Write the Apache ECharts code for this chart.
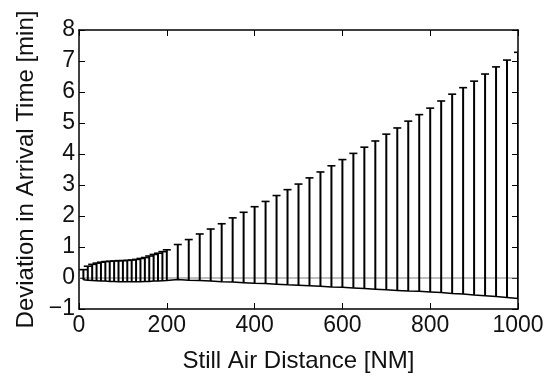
<!DOCTYPE html>
<html>
<head>
<meta charset="utf-8">
<script src="https://cdn.jsdelivr.net/npm/echarts@6/dist/echarts.min.js"></script>
<style>html,body{margin:0;padding:0;background:#fff;}#c{width:550px;height:381px;}</style>
</head>
<body>
<div id="c"></div>
<script>
// Still air distance [NM]
const distances = [10,20,30,40,50,60,70,80,90,100,110,120,130,140,150,160,170,180,190,200,
  225,250,275,300,325,350,375,400,425,450,475,500,525,550,575,600,625,650,675,700,725,750,775,800,825,850,875,900,925,950,975,1000];
// Upper end of deviation [min]
const upperDev = [0.27,0.38,0.44,0.48,0.51,0.53,0.54,0.55,0.56,0.56,0.57,0.58,0.60,0.63,0.66,0.71,0.76,0.80,0.85,0.91,
  1.08,1.24,1.42,1.58,1.75,1.94,2.12,2.30,2.47,2.66,2.85,3.03,3.23,3.42,3.62,3.82,4.02,4.22,4.42,4.64,4.84,5.06,5.27,5.48,5.71,5.93,6.14,6.35,6.58,6.81,7.03,7.28];
// Lower end of deviation [min]
const lowerDev = [-0.06,-0.07,-0.08,-0.09,-0.10,-0.10,-0.11,-0.11,-0.12,-0.12,-0.12,-0.12,-0.12,-0.12,-0.11,-0.11,-0.10,-0.10,-0.09,-0.08,
  -0.05,-0.07,-0.08,-0.10,-0.12,-0.13,-0.15,-0.17,-0.18,-0.20,-0.22,-0.23,-0.25,-0.27,-0.29,-0.30,-0.32,-0.34,-0.36,-0.38,-0.40,-0.42,-0.43,-0.45,-0.47,-0.50,-0.52,-0.55,-0.57,-0.60,-0.63,-0.66];
const zeroLine = [[0,0],[1000,0]];

const FONT = "'Liberation Sans', Arial, Helvetica, sans-serif";
const barData = distances.map((d,i)=>[d, lowerDev[i], upperDev[i]]);
const lowerLine = distances.map((d,i)=>[d, lowerDev[i]]);

const axisCommon = {
  axisLine:{show:true, onZero:false, lineStyle:{color:'#000', width:1.5}},
  axisTick:{show:true, inside:true, length:6, lineStyle:{color:'#000', width:1}},
  splitLine:{show:false}
};

const chart = echarts.init(document.getElementById('c'), null, {renderer:'canvas'});
chart.setOption({
  animation:false,
  backgroundColor:'#fff',
  grid:{left:79, right:32, top:30, bottom:72, containLabel:false},
  xAxis:[
    Object.assign({type:'value', min:0, max:1000, interval:200, position:'bottom',
      name:'Still Air Distance [NM]', nameLocation:'middle', nameGap:40,
      nameTextStyle:{fontSize:24, color:'#111', fontFamily:FONT},
      axisLabel:{fontSize:23, color:'#111', fontFamily:FONT, margin:5, formatter:v=>String(v)}}, axisCommon),
    Object.assign({type:'value', min:0, max:1000, interval:200, position:'top',
      axisLabel:{show:false}}, axisCommon)
  ],
  yAxis:[
    Object.assign({type:'value', min:-1, max:8, interval:1, position:'left',
      name:'Deviation in Arrival Time [min]', nameLocation:'middle', nameGap:40,
      nameTextStyle:{fontSize:24, color:'#111', fontFamily:FONT},
      axisLabel:{fontSize:23, color:'#111', fontFamily:FONT, margin:4,
        formatter:v=> v<0 ? '\u2212'+Math.abs(v) : String(v)}}, axisCommon),
    Object.assign({type:'value', min:-1, max:8, interval:1, position:'right',
      axisLabel:{show:false}}, axisCommon)
  ],
  series:[
    {type:'line', data:zeroLine, xAxisIndex:0, yAxisIndex:0, symbol:'none',
      lineStyle:{color:'#808080', width:1.2}, z:1, silent:true},
    {type:'line', data:lowerLine, xAxisIndex:0, yAxisIndex:0, symbol:'none',
      lineStyle:{color:'#000', width:1.5}, z:2, silent:true},
    {type:'custom', data:barData, xAxisIndex:0, yAxisIndex:0, clip:true, z:3, silent:true,
      encode:{x:0, y:[1,2]},
      renderItem:function(params, api){
        const x = api.value(0), lo = api.value(1), hi = api.value(2);
        const pLo = api.coord([x, lo]);
        const pHi = api.coord([x, hi]);
        return {type:'group', children:[
          {type:'line', shape:{x1:pLo[0], y1:pLo[1], x2:pHi[0], y2:pHi[1]}, style:{stroke:'#000', lineWidth:2}},
          {type:'line', shape:{x1:pHi[0]-4, y1:pHi[1], x2:pHi[0]+4, y2:pHi[1]}, style:{stroke:'#000', lineWidth:1.6}}
        ]};
      }}
  ]
});
</script>
</body>
</html>
